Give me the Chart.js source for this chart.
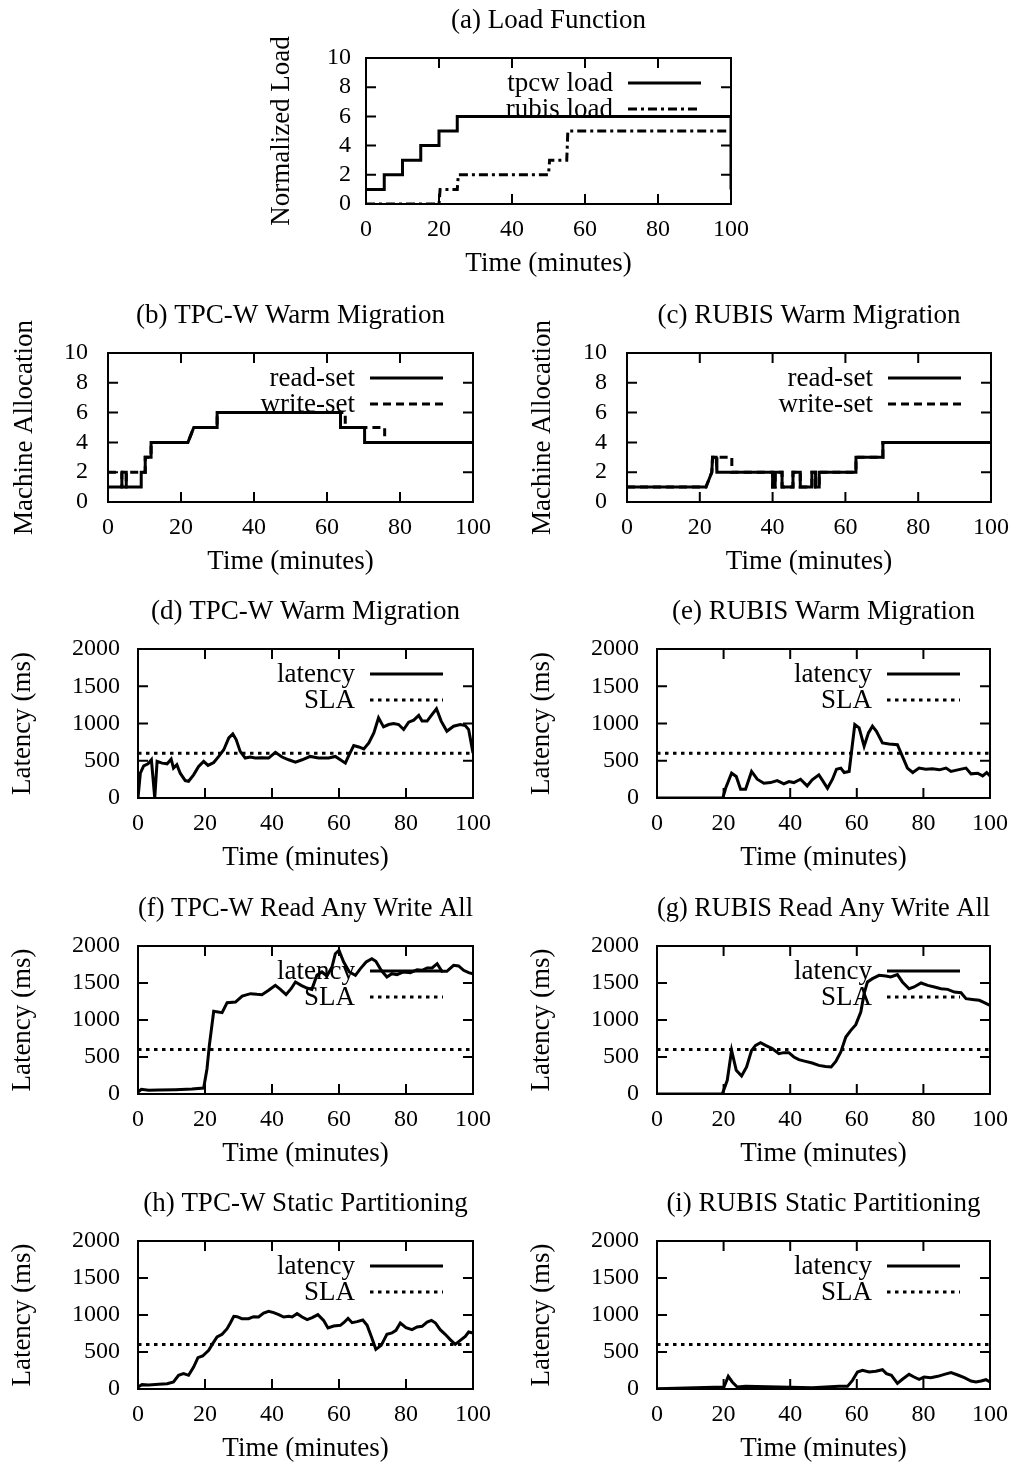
<!DOCTYPE html>
<html>
<head>
<meta charset="utf-8">
<script src="https://cdn.jsdelivr.net/npm/chart.js@4.4.1/dist/chart.umd.min.js"></script>
<style>
  html, body { margin: 0; padding: 0; background: #fff; }
  #page { position: relative; width: 1017px; height: 1466px; overflow: hidden; background: #fff; }
  #page canvas { position: absolute; }
</style>
</head>
<body>
<div id="page"></div>
<script>
'use strict';

// ---- tick values / labels ----
const timeTicks = [0, 20, 40, 60, 80, 100];
const timeTickLabels = ['0', '20', '40', '60', '80', '100'];
const countTicks = [0, 2, 4, 6, 8, 10];
const countTickLabels = ['0', '2', '4', '6', '8', '10'];
const latencyTicks = [0, 500, 1000, 1500, 2000];
const latencyTickLabels = ['0', '500', '1000', '1500', '2000'];

// ---- (a) load function ----
const tpcwLoadT = [0, 5, 5, 10, 10, 15, 15, 20, 20, 25, 25, 100, 100];
const tpcwLoadV = [1, 1, 2, 2, 3, 3, 4, 4, 5, 5, 6, 6, 1];
const rubisLoadT = [0, 20, 20.3, 25, 25.3, 50, 50.3, 55, 55.3, 100];
const rubisLoadV = [0, 0, 1, 1, 2, 2, 3, 3, 5, 5];

// ---- (b) TPC-W machine allocation ----
const tpcwReadT = [0, 3.8, 3.8, 5, 5, 9.1, 9.1, 10.2, 10.2, 11.8, 11.8, 21.9, 23.5, 29.9, 29.9, 63.7, 63.7, 70.3, 70.3, 100];
const tpcwReadV = [1, 1, 2, 2, 1, 1, 2, 2, 3, 3, 4, 4, 5, 5, 6, 6, 5, 5, 4, 4];
const tpcwWriteT = [0, 3.8, 3.8, 5, 5, 10.2, 10.2, 11.8, 11.8, 21.9, 23.5, 29.9, 29.9, 65, 65, 75.8, 75.8, 100];
const tpcwWriteV = [2, 2, 1, 1, 2, 2, 3, 3, 4, 4, 5, 5, 6, 6, 5, 5, 4, 4];

// ---- (c) RUBIS machine allocation ----
const rubisReadT = [0, 21.7, 23.3, 23.5, 24.5, 24.7, 40, 40, 40.7, 40.7, 42.6, 42.6, 45.6, 45.6, 47.6, 47.6, 50.8, 50.8, 51.8, 51.8, 52.8, 52.8, 62.9, 62.9, 70.3, 70.3, 100];
const rubisReadV = [1, 1, 2, 3, 3, 2, 2, 1, 1, 2, 2, 1, 1, 2, 2, 1, 1, 2, 2, 1, 1, 2, 2, 3, 3, 4, 4];
const rubisWriteT = [0, 21.7, 23.3, 23.5, 28.8, 28.8, 40, 40, 40.7, 40.7, 42.6, 42.6, 45.6, 45.6, 47.6, 47.6, 50.8, 50.8, 51.8, 51.8, 52.8, 52.8, 62.9, 62.9, 70.3, 70.3, 100];
const rubisWriteV = [1, 1, 2, 3, 3, 2, 2, 1, 1, 2, 2, 1, 1, 2, 2, 1, 1, 2, 2, 1, 1, 2, 2, 3, 3, 4, 4];

// ---- SLA ----
const slaT = [0, 100];
const slaV = [600, 600];

// ---- (d) TPC-W warm migration latency ----
const dT = [0, 0.7, 1.7, 3.0, 4.0, 5.0, 5.7, 7.2, 8.7, 9.9, 10.6, 11.6, 12.6, 14.1, 15.1, 16.6, 18.1, 19.6, 20.9, 22.6, 24.1, 25.6, 27.1, 28.3, 29.3, 30.5, 32.0, 33.5, 35.0, 37.0, 39.0, 41.0, 43.0, 45.0, 47.0, 49.0, 51.4, 53.9, 56.9, 58.9, 60.4, 61.9, 62.9, 64.4, 65.9, 67.4, 68.9, 70.4, 71.8, 73.3, 74.8, 76.3, 77.8, 79.3, 80.8, 82.3, 83.8, 84.8, 86.3, 87.8, 89.1, 90.5, 92.2, 94.2, 96.2, 97.7, 98.7, 100];
const dV = [0, 333, 432, 459, 513, 0, 491, 468, 459, 522, 401, 446, 333, 234, 225, 311, 423, 491, 437, 477, 558, 648, 806, 860, 784, 626, 536, 550, 536, 541, 536, 613, 550, 513, 482, 513, 558, 536, 536, 558, 513, 468, 568, 703, 685, 658, 739, 874, 1077, 955, 986, 1000, 986, 919, 1018, 1045, 1108, 1032, 1032, 1122, 1198, 1032, 896, 964, 986, 973, 919, 603];

// ---- (e) RUBIS warm migration latency ----
const eT = [0, 19.8, 20.6, 22.4, 23.8, 25.1, 26.6, 28.4, 30.1, 32.1, 34.1, 36.1, 38.1, 39.6, 41.1, 43.1, 45.1, 46.6, 48.6, 49.6, 51.2, 52.7, 53.9, 55.2, 56.2, 57.7, 59.4, 60.7, 62.2, 63.5, 64.7, 65.9, 67.7, 69.7, 72.2, 73.7, 75.2, 76.8, 78.7, 80.7, 82.7, 84.8, 86.8, 88.3, 90.3, 92.8, 94.3, 96.3, 97.8, 99.0, 100];
const eV = [0, 5, 131, 333, 288, 117, 117, 356, 252, 198, 207, 234, 189, 221, 207, 252, 162, 243, 311, 243, 131, 252, 387, 401, 342, 356, 986, 941, 694, 874, 964, 896, 739, 725, 716, 558, 401, 342, 401, 387, 392, 378, 401, 356, 378, 401, 324, 333, 297, 342, 297];

// ---- (f) TPC-W read any write all latency ----
const fT = [0, 1.0, 3.2, 6.2, 11.1, 16.1, 19.6, 20.6, 21.3, 22.6, 25.1, 26.6, 29.1, 31.1, 33.6, 35.5, 37.0, 39.0, 41.0, 42.5, 44.2, 45.7, 47.0, 48.7, 50.4, 51.9, 53.4, 54.9, 56.4, 57.9, 58.9, 60.0, 61.4, 63.1, 64.9, 66.4, 68.1, 69.8, 71.0, 72.6, 74.3, 75.8, 77.3, 79.3, 81.3, 83.3, 84.8, 86.3, 87.8, 89.3, 90.7, 92.2, 94.2, 95.7, 97.2, 98.7, 100];
const fV = [27, 63, 50, 54, 59, 68, 81, 342, 658, 1117, 1099, 1234, 1243, 1324, 1356, 1347, 1342, 1401, 1468, 1414, 1342, 1423, 1514, 1468, 1432, 1414, 1604, 1649, 1595, 1716, 1896, 1941, 1784, 1649, 1604, 1694, 1784, 1829, 1793, 1671, 1581, 1626, 1613, 1649, 1640, 1680, 1671, 1703, 1703, 1761, 1658, 1658, 1739, 1730, 1671, 1640, 1626];

// ---- (g) RUBIS read any write all latency ----
const gT = [0, 19.6, 21.1, 22.4, 23.8, 25.4, 26.9, 28.4, 29.6, 31.1, 32.6, 34.6, 36.6, 38.1, 39.6, 41.1, 42.6, 44.6, 46.6, 48.6, 50.6, 52.3, 53.7, 55.2, 56.7, 58.2, 59.7, 61.2, 62.2, 63.2, 64.7, 66.7, 68.7, 70.2, 72.2, 73.7, 75.7, 77.2, 79.3, 81.3, 83.3, 85.3, 87.3, 89.3, 91.3, 92.8, 95.3, 96.8, 98.3, 100];
const gV = [0, 0, 185, 590, 320, 243, 365, 590, 658, 694, 658, 613, 545, 559, 559, 500, 464, 441, 419, 387, 373, 365, 441, 568, 770, 860, 937, 1108, 1356, 1514, 1559, 1604, 1595, 1581, 1613, 1514, 1423, 1446, 1500, 1468, 1446, 1423, 1414, 1378, 1369, 1288, 1275, 1266, 1234, 1198];

// ---- (h) TPC-W static partitioning latency ----
const hT = [0, 1.2, 3.2, 6.2, 8.7, 10.6, 12.1, 13.6, 15.1, 16.6, 17.9, 19.3, 21.1, 22.3, 23.6, 25.1, 26.6, 27.6, 28.6, 29.6, 31.0, 33.0, 34.5, 36.0, 37.5, 39.0, 40.5, 42.0, 43.5, 45.0, 46.0, 47.5, 49.0, 50.5, 52.0, 53.7, 55.4, 56.7, 58.4, 60.4, 61.4, 62.7, 63.9, 65.4, 67.1, 68.4, 69.7, 71.0, 72.6, 74.3, 75.8, 77.0, 78.3, 80.0, 81.8, 83.3, 84.8, 86.3, 87.6, 88.8, 90.2, 91.7, 93.2, 94.7, 96.2, 97.7, 98.7, 100];
const hV = [27, 59, 54, 63, 72, 95, 185, 207, 185, 297, 423, 446, 523, 613, 703, 739, 815, 896, 982, 977, 950, 950, 977, 973, 1027, 1050, 1032, 1005, 973, 982, 973, 1018, 973, 937, 964, 1005, 928, 824, 851, 860, 896, 955, 896, 910, 932, 860, 703, 536, 590, 739, 757, 793, 892, 829, 802, 838, 847, 905, 928, 892, 802, 739, 667, 604, 658, 712, 770, 757];

// ---- (i) RUBIS static partitioning latency ----
const iT = [0, 20.1, 21.4, 22.6, 24.1, 26.6, 36.6, 46.6, 54.7, 57.2, 58.7, 60.2, 61.7, 63.7, 65.7, 67.7, 68.9, 70.4, 72.2, 73.7, 75.7, 77.2, 78.7, 80.2, 82.2, 84.3, 86.3, 88.3, 90.3, 92.3, 94.3, 95.8, 97.3, 98.8, 100];
const iV = [5, 27, 171, 95, 27, 36, 27, 18, 36, 36, 117, 230, 252, 230, 239, 261, 207, 185, 77, 131, 198, 162, 131, 162, 153, 171, 198, 221, 189, 153, 108, 95, 108, 126, 95];

// ---- styles ----
const SERIF = '"Liberation Serif", "Times New Roman", serif';
const TEXT_SIZE = 27;
const TICK_SIZE = 24;
const SOLID = [];
const DASHED = [8, 5];
const DOTTED = [3.5, 4.5];
const DASHDOT = [9, 4, 3, 4];

const TITLE_BOX = 60;   // space above the plot area
const X_BOX = 80;       // space below the plot area
const PAD_R = 36;       // must exceed half of "100" + tick padding

Chart.defaults.font.family = SERIF;
Chart.defaults.color = '#000';

// gnuplot-style key: right-aligned text, then a line sample
const keyPlugin = {
  id: 'gnuKey',
  beforeDatasetsDraw(chart) {
    const { ctx, chartArea: a } = chart;
    ctx.save();
    ctx.font = TEXT_SIZE + 'px ' + SERIF;
    ctx.fillStyle = '#000';
    ctx.strokeStyle = '#000';
    ctx.textAlign = 'right';
    ctx.textBaseline = 'middle';
    chart.data.datasets.forEach((ds, i) => {
      const y = a.top + 25 + i * 26;
      const x1 = a.right - 30;
      const x0 = x1 - 73;
      ctx.fillText(ds.label, x0 - 15, y + 1);
      ctx.lineWidth = 3;
      ctx.setLineDash(ds.borderDash || []);
      ctx.beginPath();
      ctx.moveTo(x0, y);
      ctx.lineTo(x1, y);
      ctx.stroke();
    });
    ctx.restore();
  }
};

// border + inward tick marks on all four sides
const framePlugin = {
  id: 'gnuFrame',
  afterDatasetsDraw(chart) {
    const { ctx, chartArea: a, scales } = chart;
    const len = 10;
    ctx.save();
    ctx.strokeStyle = '#000';
    ctx.lineWidth = 2;
    ctx.setLineDash([]);
    ctx.beginPath();
    scales.x.ticks.forEach(t => {
      const px = scales.x.getPixelForValue(t.value);
      ctx.moveTo(px, a.bottom); ctx.lineTo(px, a.bottom - len);
      ctx.moveTo(px, a.top); ctx.lineTo(px, a.top + len);
    });
    scales.y.ticks.forEach(t => {
      const py = scales.y.getPixelForValue(t.value);
      ctx.moveTo(a.left, py); ctx.lineTo(a.left + len, py);
      ctx.moveTo(a.right, py); ctx.lineTo(a.right - len, py);
    });
    ctx.stroke();
    ctx.strokeRect(a.left, a.top, a.right - a.left, a.bottom - a.top);
    ctx.restore();
  }
};

const page = document.getElementById('page');

function series(label, t, v, dash) {
  return {
    label,
    data: t.map((x, i) => ({ x, y: v[i] })),
    borderColor: '#000',
    borderWidth: 3,
    borderDash: dash,
    borderCapStyle: 'butt',
    borderJoinStyle: 'miter',
    pointRadius: 0,
    tension: 0,
    fill: false
  };
}

function makePanel(p) {
  const w = p.area.r - p.left + PAD_R;
  const h = (p.area.b - p.area.t) + TITLE_BOX + X_BOX;
  const canvas = document.createElement('canvas');
  canvas.width = w;
  canvas.height = h;
  canvas.style.left = p.left + 'px';
  canvas.style.top = (p.area.t - TITLE_BOX) + 'px';
  canvas.style.width = w + 'px';
  canvas.style.height = h + 'px';
  page.appendChild(canvas);

  const yw = p.area.l - p.left;
  const half = TEXT_SIZE * 1.2 / 2;

  new Chart(canvas, {
    type: 'line',
    data: { datasets: p.datasets },
    options: {
      responsive: false,
      animation: false,
      devicePixelRatio: 1,
      layout: { padding: { top: 0, left: 0, right: PAD_R, bottom: 0 } },
      plugins: {
        legend: { display: false },
        tooltip: { enabled: false },
        title: {
          display: true,
          text: p.title,
          fullSize: false,
          color: '#000',
          font: { size: TEXT_SIZE, weight: 'normal', lineHeight: 1.2 },
          padding: { top: 23 - half, bottom: TITLE_BOX - 23 - half }
        }
      },
      scales: {
        x: {
          type: 'linear', min: 0, max: 100,
          grid: { display: false, drawTicks: false }, border: { display: false },
          afterBuildTicks: s => { s.ticks = timeTicks.map(v => ({ value: v })); },
          afterFit: s => { s.height = X_BOX; },
          ticks: {
            autoSkip: false, maxRotation: 0, padding: 26 - TICK_SIZE * 1.2 / 2,
            font: { size: TICK_SIZE }, color: '#000',
            callback: (v, i) => timeTickLabels[i]
          },
          title: {
            display: true, text: 'Time (minutes)', color: '#000',
            font: { size: TEXT_SIZE }, padding: { top: 0, bottom: X_BOX - 60 - half }
          }
        },
        y: {
          type: 'linear', min: p.yTicks[0], max: p.yTicks[p.yTicks.length - 1],
          grid: { display: false, drawTicks: false }, border: { display: false },
          afterBuildTicks: s => { s.ticks = p.yTicks.map(v => ({ value: v })); },
          afterFit: s => { s.width = yw; },
          ticks: {
            autoSkip: false, padding: p.tickGap,
            font: { size: TICK_SIZE }, color: '#000',
            callback: (v, i) => p.yLabels[i]
          },
          title: {
            display: true, text: p.yTitle, color: '#000',
            font: { size: TEXT_SIZE }, padding: { top: p.yTitleX - p.left - half, bottom: 0 }
          }
        }
      }
    },
    plugins: [keyPlugin, framePlugin]
  });
}

const panels = [
  { title: '(a) Load Function', yTitle: 'Normalized Load', yTicks: countTicks, yLabels: countTickLabels,
    left: 250, yTitleX: 282, tickGap: 15, area: { l: 366, t: 58, r: 731, b: 204 },
    datasets: [series('tpcw load', tpcwLoadT, tpcwLoadV, SOLID), series('rubis load', rubisLoadT, rubisLoadV, DASHDOT)] },
  { title: '(b) TPC-W Warm Migration', yTitle: 'Machine Allocation', yTicks: countTicks, yLabels: countTickLabels,
    left: 0, yTitleX: 25, tickGap: 20, area: { l: 108, t: 353, r: 473, b: 502 },
    datasets: [series('read-set', tpcwReadT, tpcwReadV, SOLID), series('write-set', tpcwWriteT, tpcwWriteV, DASHED)] },
  { title: '(c) RUBIS Warm Migration', yTitle: 'Machine Allocation', yTicks: countTicks, yLabels: countTickLabels,
    left: 510, yTitleX: 543, tickGap: 20, area: { l: 627, t: 353, r: 991, b: 502 },
    datasets: [series('read-set', rubisReadT, rubisReadV, SOLID), series('write-set', rubisWriteT, rubisWriteV, DASHED)] },
  { title: '(d) TPC-W Warm Migration', yTitle: 'Latency (ms)', yTicks: latencyTicks, yLabels: latencyTickLabels,
    left: 0, yTitleX: 23, tickGap: 18, area: { l: 138, t: 649, r: 473, b: 798 },
    datasets: [series('latency', dT, dV, SOLID), series('SLA', slaT, slaV, DOTTED)] },
  { title: '(e) RUBIS Warm Migration', yTitle: 'Latency (ms)', yTicks: latencyTicks, yLabels: latencyTickLabels,
    left: 510, yTitleX: 542, tickGap: 18, area: { l: 657, t: 649, r: 990, b: 798 },
    datasets: [series('latency', eT, eV, SOLID), series('SLA', slaT, slaV, DOTTED)] },
  { title: '(f) TPC-W Read Any Write All', yTitle: 'Latency (ms)', yTicks: latencyTicks, yLabels: latencyTickLabels,
    left: 0, yTitleX: 23, tickGap: 18, area: { l: 138, t: 946, r: 473, b: 1094 },
    datasets: [series('latency', fT, fV, SOLID), series('SLA', slaT, slaV, DOTTED)] },
  { title: '(g) RUBIS Read Any Write All', yTitle: 'Latency (ms)', yTicks: latencyTicks, yLabels: latencyTickLabels,
    left: 510, yTitleX: 542, tickGap: 18, area: { l: 657, t: 946, r: 990, b: 1094 },
    datasets: [series('latency', gT, gV, SOLID), series('SLA', slaT, slaV, DOTTED)] },
  { title: '(h) TPC-W Static Partitioning', yTitle: 'Latency (ms)', yTicks: latencyTicks, yLabels: latencyTickLabels,
    left: 0, yTitleX: 23, tickGap: 18, area: { l: 138, t: 1241, r: 473, b: 1389 },
    datasets: [series('latency', hT, hV, SOLID), series('SLA', slaT, slaV, DOTTED)] },
  { title: '(i) RUBIS Static Partitioning', yTitle: 'Latency (ms)', yTicks: latencyTicks, yLabels: latencyTickLabels,
    left: 510, yTitleX: 542, tickGap: 18, area: { l: 657, t: 1241, r: 990, b: 1389 },
    datasets: [series('latency', iT, iV, SOLID), series('SLA', slaT, slaV, DOTTED)] }
];

panels.forEach(makePanel);
</script>
</body>
</html>
